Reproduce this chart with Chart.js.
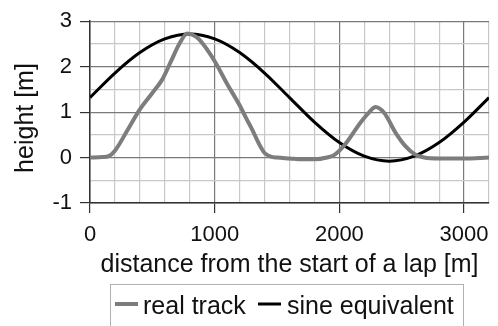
<!DOCTYPE html>
<html>
<head>
<meta charset="utf-8">
<script src="https://cdn.jsdelivr.net/npm/chart.js@4/dist/chart.umd.min.js"></script>
<style>
html,body{margin:0;padding:0;background:#fff;}
#wrap{width:498px;height:326px;position:relative;}
</style>
</head>
<body>
<div id="wrap"><canvas id="c" width="498" height="326"></canvas></div>
<script>
// Data
const trackX = [0, 100, 150, 200, 300, 400, 500, 580, 650, 720, 780, 850, 900, 1000, 1100, 1200, 1250, 1300, 1350, 1400, 1450, 1500, 1600, 1700, 1800, 1900, 1960, 2040, 2170, 2240, 2290, 2360, 2450, 2530, 2600, 2680, 2800, 3000, 3200];
const trackH = [0.0, 0.01, 0.03, 0.15, 0.6, 1.06, 1.42, 1.72, 2.12, 2.52, 2.73, 2.66, 2.52, 2.12, 1.62, 1.15, 0.88, 0.62, 0.33, 0.1, 0.02, 0.0, -0.02, -0.04, -0.04, 0.0, 0.06, 0.27, 0.77, 1.0, 1.11, 0.98, 0.55, 0.25, 0.08, 0.0, -0.02, -0.02, 0.0];
const sineX = [0, 200, 400, 600, 800, 1000, 1200, 1400, 1600, 1800, 2000, 2200, 2400, 2600, 2800, 3000, 3200];
const sineH = [1.32, 1.86, 2.31, 2.61, 2.72, 2.61, 2.31, 1.86, 1.32, 0.78, 0.33, 0.03, -0.08, 0.03, 0.33, 0.78, 1.32];
const seriesNames = ['real track', 'sine equivalent'];
const xTitle = 'distance from the start of a lap [m]';
const yTitle = 'height [m]';
const xMajorTicks = [0, 1000, 2000, 3000];
const yMajorTicks = [-1, 0, 1, 2, 3];

const FONT = "'Liberation Sans', Arial, sans-serif";
const colors = ['#7d7d7d', '#000000'];
const widths = [4, 3];

const legendPlugin = {
  id: 'boxLegend',
  afterDraw(chart) {
    const ctx = chart.ctx;
    ctx.save();
    // y-axis title
    ctx.font = '25px ' + FONT;
    ctx.fillStyle = '#111';
    ctx.textAlign = 'center';
    ctx.textBaseline = 'middle';
    ctx.translate(26.5, 118);
    ctx.rotate(-Math.PI / 2);
    ctx.fillText(yTitle, 0, 0);
    ctx.restore();

    ctx.save();
    ctx.strokeStyle = '#b0b0b0';
    ctx.lineWidth = 1;
    ctx.strokeRect(110.5, 284.5, 353, 60);
    const items = [{x: 115, tx: 143}, {x: 258, tx: 287}];
    ctx.font = '25px ' + FONT;
    ctx.textBaseline = 'alphabetic';
    ctx.textAlign = 'left';
    ctx.fillStyle = '#111';
    chart.data.datasets.forEach((ds, i) => {
      ctx.strokeStyle = ds.borderColor;
      ctx.lineWidth = ds.borderWidth;
      ctx.beginPath();
      ctx.moveTo(items[i].x, 304);
      ctx.lineTo(items[i].x + 23, 304);
      ctx.stroke();
      ctx.fillText(ds.label, items[i].tx, 314);
    });
    ctx.restore();
  }
};

new Chart(document.getElementById('c'), {
  type: 'line',
  data: {
    datasets: [
      {
        label: seriesNames[0],
        data: trackX.map((x, i) => ({x: x, y: trackH[i]})),
        borderColor: colors[0], borderWidth: widths[0],
        pointRadius: 0, cubicInterpolationMode: 'monotone', fill: false
      },
      {
        label: seriesNames[1],
        data: sineX.map((x, i) => ({x: x, y: sineH[i]})),
        borderColor: colors[1], borderWidth: widths[1],
        pointRadius: 0, cubicInterpolationMode: 'monotone', fill: false
      }
    ]
  },
  options: {
    responsive: false,
    animation: false,
    devicePixelRatio: 1,
    layout: {padding: {top: 16, bottom: 43, left: 0, right: 0}},
    plugins: {legend: {display: false}, tooltip: {enabled: false}},
    scales: {
      x: {
        type: 'linear', min: 0, max: 3200,
        afterFit(s) { s.height = 80; },
        border: {color: '#333', width: 1.5},
        grid: {
          color: c => (c.tick && xMajorTicks.includes(c.tick.value)) ? '#7a7a7a' : '#c8c8c8',
          tickColor: c => (c.tick && xMajorTicks.includes(c.tick.value)) ? '#333' : 'rgba(0,0,0,0)',
          tickLength: 10, lineWidth: 1.2
        },
        ticks: {
          stepSize: 200, autoSkip: false, maxRotation: 0, padding: 9,
          color: '#111', font: {family: FONT, size: 22},
          callback: v => xMajorTicks.includes(v) ? String(v) : ''
        },
        title: {display: true, text: xTitle, color: '#111', font: {family: FONT, size: 25}, padding: {top: 0, bottom: 3}}
      },
      y: {
        min: -1, max: 3,
        afterFit(s) { s.width = 90; },
        border: {color: '#333', width: 1.5},
        grid: {
          color: c => (c.tick && yMajorTicks.includes(c.tick.value)) ? '#7a7a7a' : '#c8c8c8',
          tickColor: c => (c.tick && yMajorTicks.includes(c.tick.value)) ? '#333' : 'rgba(0,0,0,0)',
          tickLength: 10, lineWidth: 1.2
        },
        ticks: {
          stepSize: 0.5, autoSkip: false, padding: 8,
          color: '#111', font: {family: FONT, size: 22},
          callback: v => yMajorTicks.includes(v) ? String(v) : ''
        },
        title: {display: false, text: yTitle}
      }
    }
  },
  plugins: [legendPlugin]
});
</script>
</body>
</html>
